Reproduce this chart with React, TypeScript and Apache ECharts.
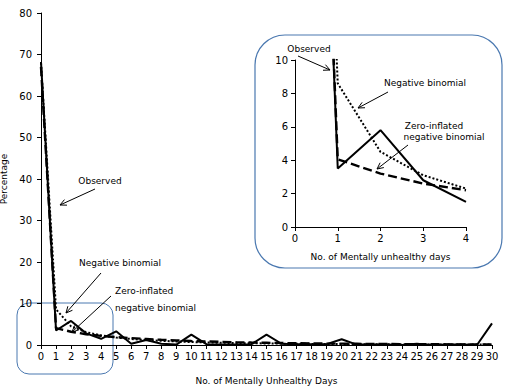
import React, { useEffect, useRef } from "react";
import * as echarts from "echarts";

const days = [0,1,2,3,4,5,6,7,8,9,10,11,12,13,14,15,16,17,18,19,20,21,22,23,24,25,26,27,28,29,30];
const observed = [68.2,3.5,5.8,2.8,1.5,3.3,0.3,1.2,0.3,0.1,2.5,0.2,0.1,0.1,0.2,2.5,0.3,0.2,0.2,0.2,1.4,0.1,0.1,0.1,0.0,0.3,0.0,0.1,0.1,0.0,5.2];
const negBinomial = [68.0,8.6,4.5,3.1,2.3,1.8,1.45,1.2,1.0,0.85,0.72,0.62,0.54,0.47,0.42,0.37,0.33,0.3,0.27,0.24,0.22,0.2,0.18,0.16,0.15,0.14,0.13,0.12,0.11,0.1,0.09];
const zeroInflated = [67.0,4.05,3.2,2.6,2.2,1.9,1.65,1.45,1.25,1.1,0.95,0.85,0.75,0.67,0.6,0.54,0.48,0.43,0.39,0.35,0.32,0.29,0.26,0.24,0.22,0.2,0.18,0.16,0.15,0.14,0.13];
const mainYTicks = [0, 80, 10];
const insetYTicks = [0, 10, 2];

const FONT = "DejaVu Sans";
const BLUE = "#4a78b0";

function arrow(x1: number, y1: number, x2: number, y2: number) {
  const ang = Math.atan2(y2 - y1, x2 - x1);
  const L = 7, a = 0.45;
  const p1 = [x2 - L * Math.cos(ang - a), y2 - L * Math.sin(ang - a)];
  const p2 = [x2 - L * Math.cos(ang + a), y2 - L * Math.sin(ang + a)];
  return [
    { type: "line", shape: { x1, y1, x2, y2 }, style: { stroke: "#000", lineWidth: 1 } },
    { type: "polyline", shape: { points: [p1, [x2, y2], p2] }, style: { stroke: "#000", lineWidth: 1, fill: null } },
  ];
}

function txt(x: number, y: number, text: string, align = "center") {
  return { type: "text", x, y, style: { text, font: `9px "${FONT}"`, fill: "#000", textAlign: align, textVerticalAlign: "middle" } };
}

export default function App() {
  const ref = useRef<HTMLDivElement>(null);
  useEffect(() => {
    if (!ref.current) return;
    const chart = echarts.init(ref.current, null, { renderer: "svg" });
    const pts = (ys: number[]) => days.map((d, i) => [d, ys[i]]);
    const axisCommon = {
      axisLine: { lineStyle: { color: "#000", width: 1 } },
      axisTick: { show: true, length: 4, lineStyle: { color: "#000" } },
      axisLabel: { color: "#000", fontFamily: FONT, fontSize: 10 },
      splitLine: { show: false },
      nameTextStyle: { color: "#000", fontFamily: FONT, fontSize: 9 },
    };
    const lineStyles = [
      { color: "#000", width: 2, type: "solid" },
      { color: "#000", width: 2, type: [2, 2] },
      { color: "#000", width: 2.4, type: [9, 4] },
    ];
    const sets = [observed, negBinomial, zeroInflated];
    const names = ["Observed", "Negative binomial", "Zero-inflated negative binomial"];
    const series: any[] = [];
    sets.forEach((s, i) => {
      series.push({ type: "line", name: names[i], xAxisIndex: 0, yAxisIndex: 0, data: pts(s), symbol: "none", lineStyle: lineStyles[i], z: 5 - i });
      series.push({ type: "line", name: names[i] + " inset", xAxisIndex: 1, yAxisIndex: 1, data: pts(s).slice(0, 5), symbol: "none", lineStyle: lineStyles[i], clip: true, z: 5 - i });
    });
    chart.setOption({
      animation: false,
      grid: [
        { left: 41, right: 26, top: 13, bottom: 43, outerBoundsMode: "none", containLabel: false },
        { left: 295, right: 52, top: 60, bottom: 161, outerBoundsMode: "none", containLabel: false },
      ],
      xAxis: [
        { ...axisCommon, type: "value", gridIndex: 0, min: 0, max: 30, interval: 1, name: "No. of Mentally Unhealthy Days", nameLocation: "middle", nameGap: 31, axisLabel: { ...axisCommon.axisLabel, margin: 6 } },
        { ...axisCommon, type: "value", gridIndex: 1, min: 0, max: 4, interval: 1, name: "No. of Mentally unhealthy days", nameLocation: "middle", nameGap: 25, axisLabel: { ...axisCommon.axisLabel, margin: 6 } },
      ],
      yAxis: [
        { ...axisCommon, type: "value", gridIndex: 0, min: mainYTicks[0], max: mainYTicks[1], interval: mainYTicks[2], name: "Percentage", nameLocation: "middle", nameGap: 28, axisLabel: { ...axisCommon.axisLabel, margin: 9 } },
        { ...axisCommon, type: "value", gridIndex: 1, min: insetYTicks[0], max: insetYTicks[1], interval: insetYTicks[2], axisLabel: { ...axisCommon.axisLabel, margin: 7 } },
      ],
      series,
      graphic: [
        { type: "rect", shape: { x: 17, y: 303, width: 96, height: 71, r: 12 }, style: { stroke: BLUE, fill: null, lineWidth: 1 } },
        { type: "rect", shape: { x: 255, y: 35, width: 247, height: 233, r: 30 }, style: { stroke: BLUE, fill: null, lineWidth: 1.2 } },
        txt(100, 181, "Observed"),
        ...arrow(95, 189, 60, 205),
        txt(120, 263, "Negative binomial"),
        ...arrow(101, 273, 66, 313),
        txt(115, 291, "Zero-inflated", "left"),
        txt(115, 308, "negative binomial", "left"),
        ...arrow(111, 296, 72, 332),
        txt(309, 49, "Observed"),
        ...arrow(298, 56, 330, 70),
        txt(425, 83, "Negative binomial"),
        ...arrow(388, 92, 358, 108),
        txt(434, 126, "Zero-inflated"),
        txt(444, 137, "negative binomial"),
        ...arrow(408, 145, 377, 169),
      ],
    });
    return () => chart.dispose();
  }, []);
  return <div ref={ref} style={{ position: "absolute", left: 0, top: 0, width: 518, height: 388 }} />;
}
